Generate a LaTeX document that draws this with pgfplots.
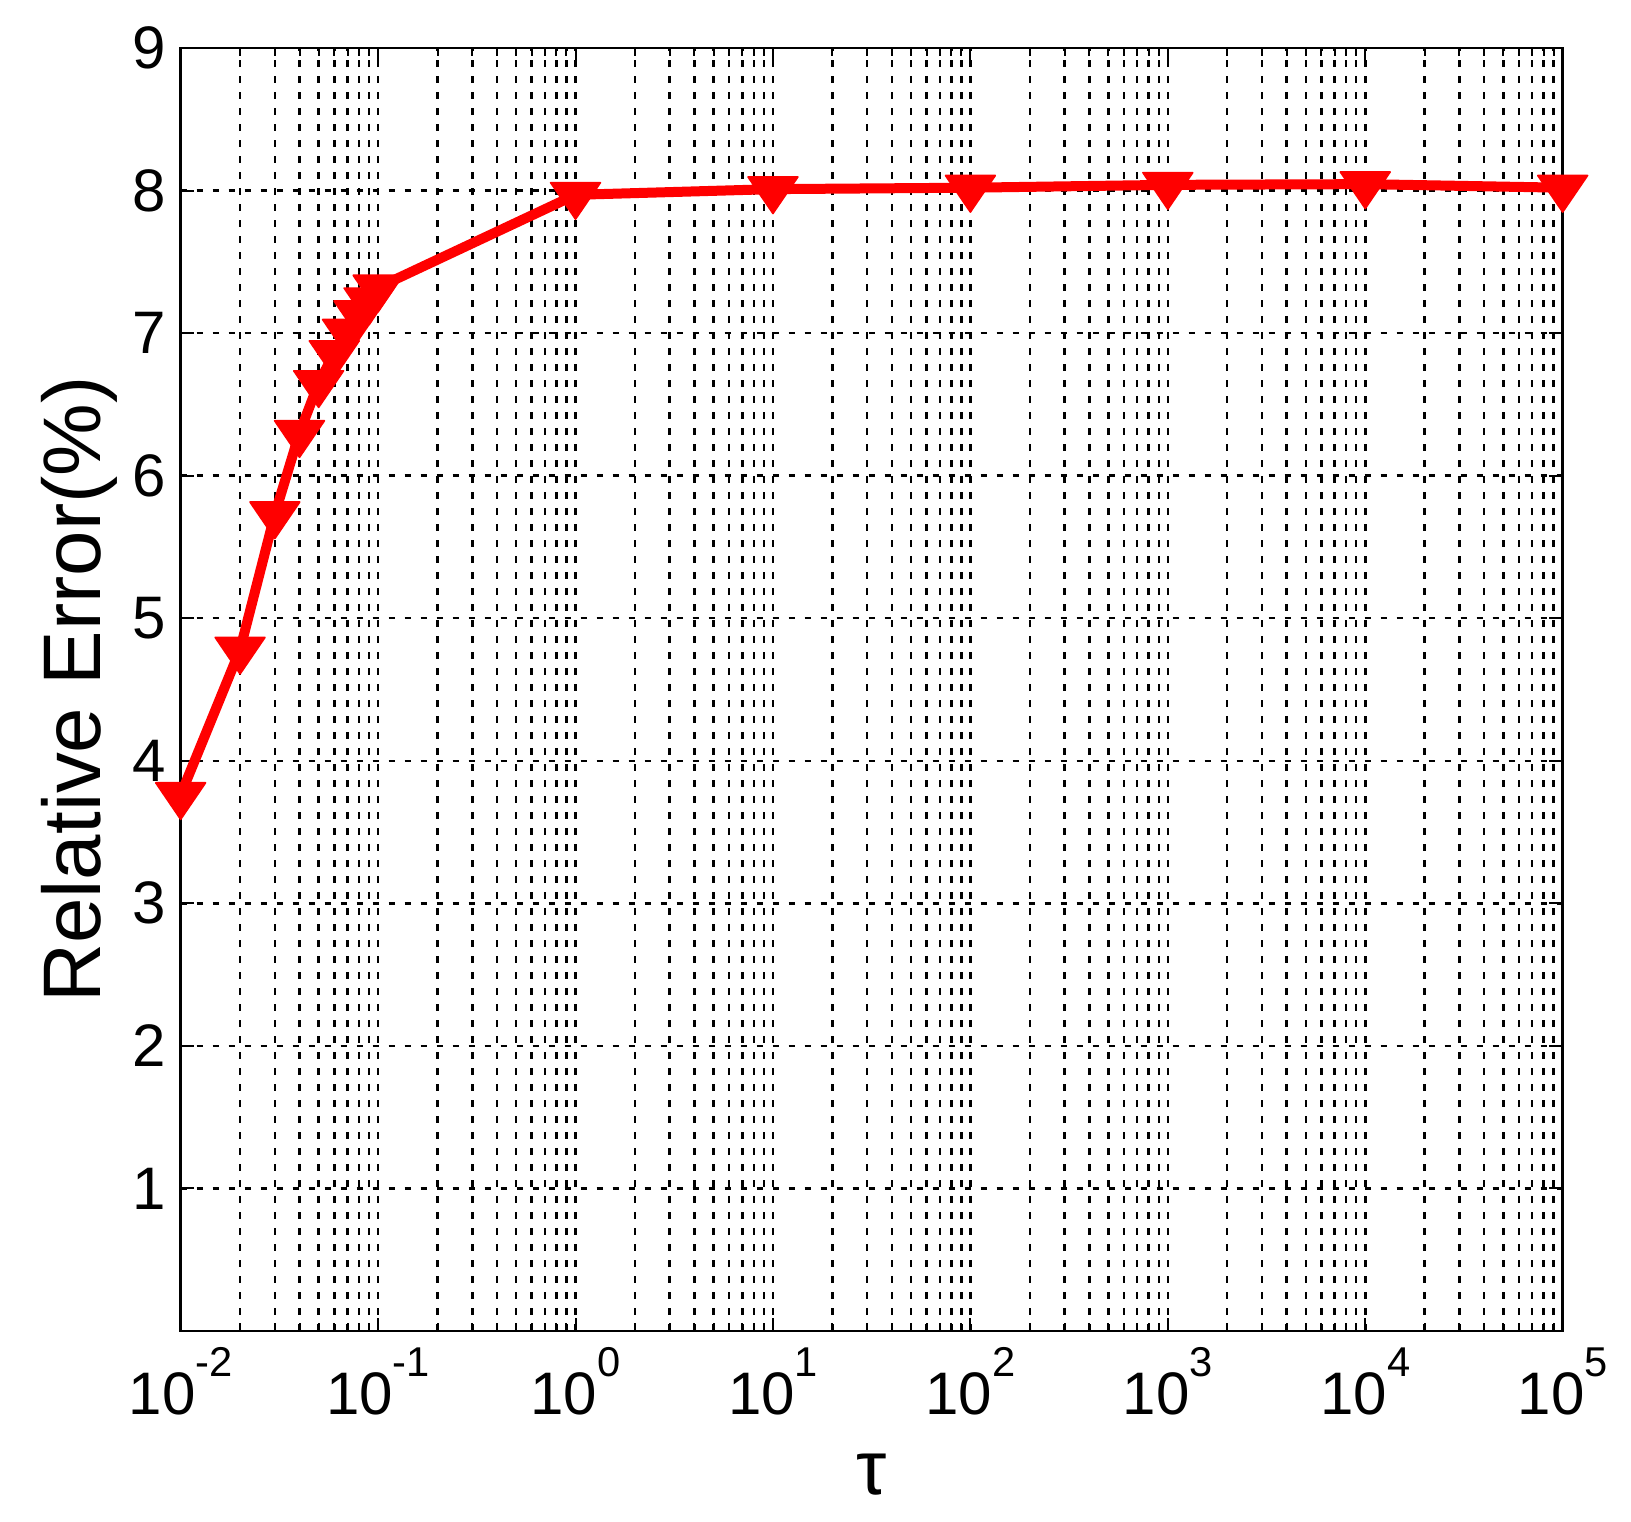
\documentclass[border=0pt]{standalone}
\usepackage{fontspec}
\setmainfont{Liberation Sans}
\usepackage{pgfplots}
\pgfplotsset{compat=1.18}

\newcommand{\tenpow}[1]{10\raisebox{11.4pt}{\fontsize{12.5}{12.5}\selectfont #1}}

\begin{document}
\begin{tikzpicture}
\begin{axis}[
  xmode=log,
  scale only axis,
  width=414.6pt, height=384.9pt,
  xmin=1e-2, xmax=1e5,
  ymin=0, ymax=9,
  xtick={1e-2,1e-1,1,10,100,1000,1e4,1e5},
  xticklabels={\tenpow{-2},\tenpow{-1},\tenpow{0},\tenpow{1},\tenpow{2},\tenpow{3},\tenpow{4},\tenpow{5}},
  minor xtick={2e-2,3e-2,4e-2,5e-2,6e-2,7e-2,8e-2,9e-2,
               0.2,0.3,0.4,0.5,0.6,0.7,0.8,0.9,
               2,3,4,5,6,7,8,9,
               20,30,40,50,60,70,80,90,
               200,300,400,500,600,700,800,900,
               2000,3000,4000,5000,6000,7000,8000,9000,
               2e4,3e4,4e4,5e4,6e4,7e4,8e4,9e4},
  ytick={1,2,3,4,5,6,7,8,9},
  /pgf/number format/assume math mode=true,
  tick align=inside,
  major tick length=4pt,
  minor tick length=2.5pt,
  tick style={black, line width=0.6pt},
  axis line style={black, line width=0.8pt},
  grid=both,
  major grid style={black, line width=0.75pt, dash pattern=on 2pt off 2.8pt},
  minor grid style={black, line width=0.75pt, dash pattern=on 2pt off 2.8pt},
  xticklabel style={font=\fontsize{18}{20}\selectfont, anchor=base, inner sep=0pt, yshift=-25.2pt},
  yticklabel style={font=\fontsize{18}{20}\selectfont, anchor=east, inner sep=0pt, xshift=-4.1pt},
  xlabel={τ},
  ylabel={Relative Error(\%)},
  xlabel style={font=\fontsize{23}{26}\selectfont, at={(axis description cs:0.5,-0.1278)}, anchor=base},
  ylabel style={font=\fontsize{24.5}{28}\selectfont, at={(axis description cs:-0.0579,0.5)}, anchor=base},
]
\addplot[red, line width=3pt, line join=round,
  mark=triangle*, mark size=7.3pt,
  mark options={rotate=180, xscale=1.18, fill=red, line width=0.5pt, solid}]
coordinates {
  (0.01,3.76) (0.02,4.78) (0.03,5.73) (0.04,6.30) (0.05,6.65)
  (0.06,6.86) (0.07,7.01) (0.08,7.14) (0.09,7.23) (0.1,7.32)
  (1,7.97) (10,8.01) (100,8.02) (1000,8.04) (10000,8.045) (100000,8.02)
};
\end{axis}
\path (-54.2pt,-57.3pt) rectangle (435.1pt,399.3pt);
\end{tikzpicture}
\end{document}
